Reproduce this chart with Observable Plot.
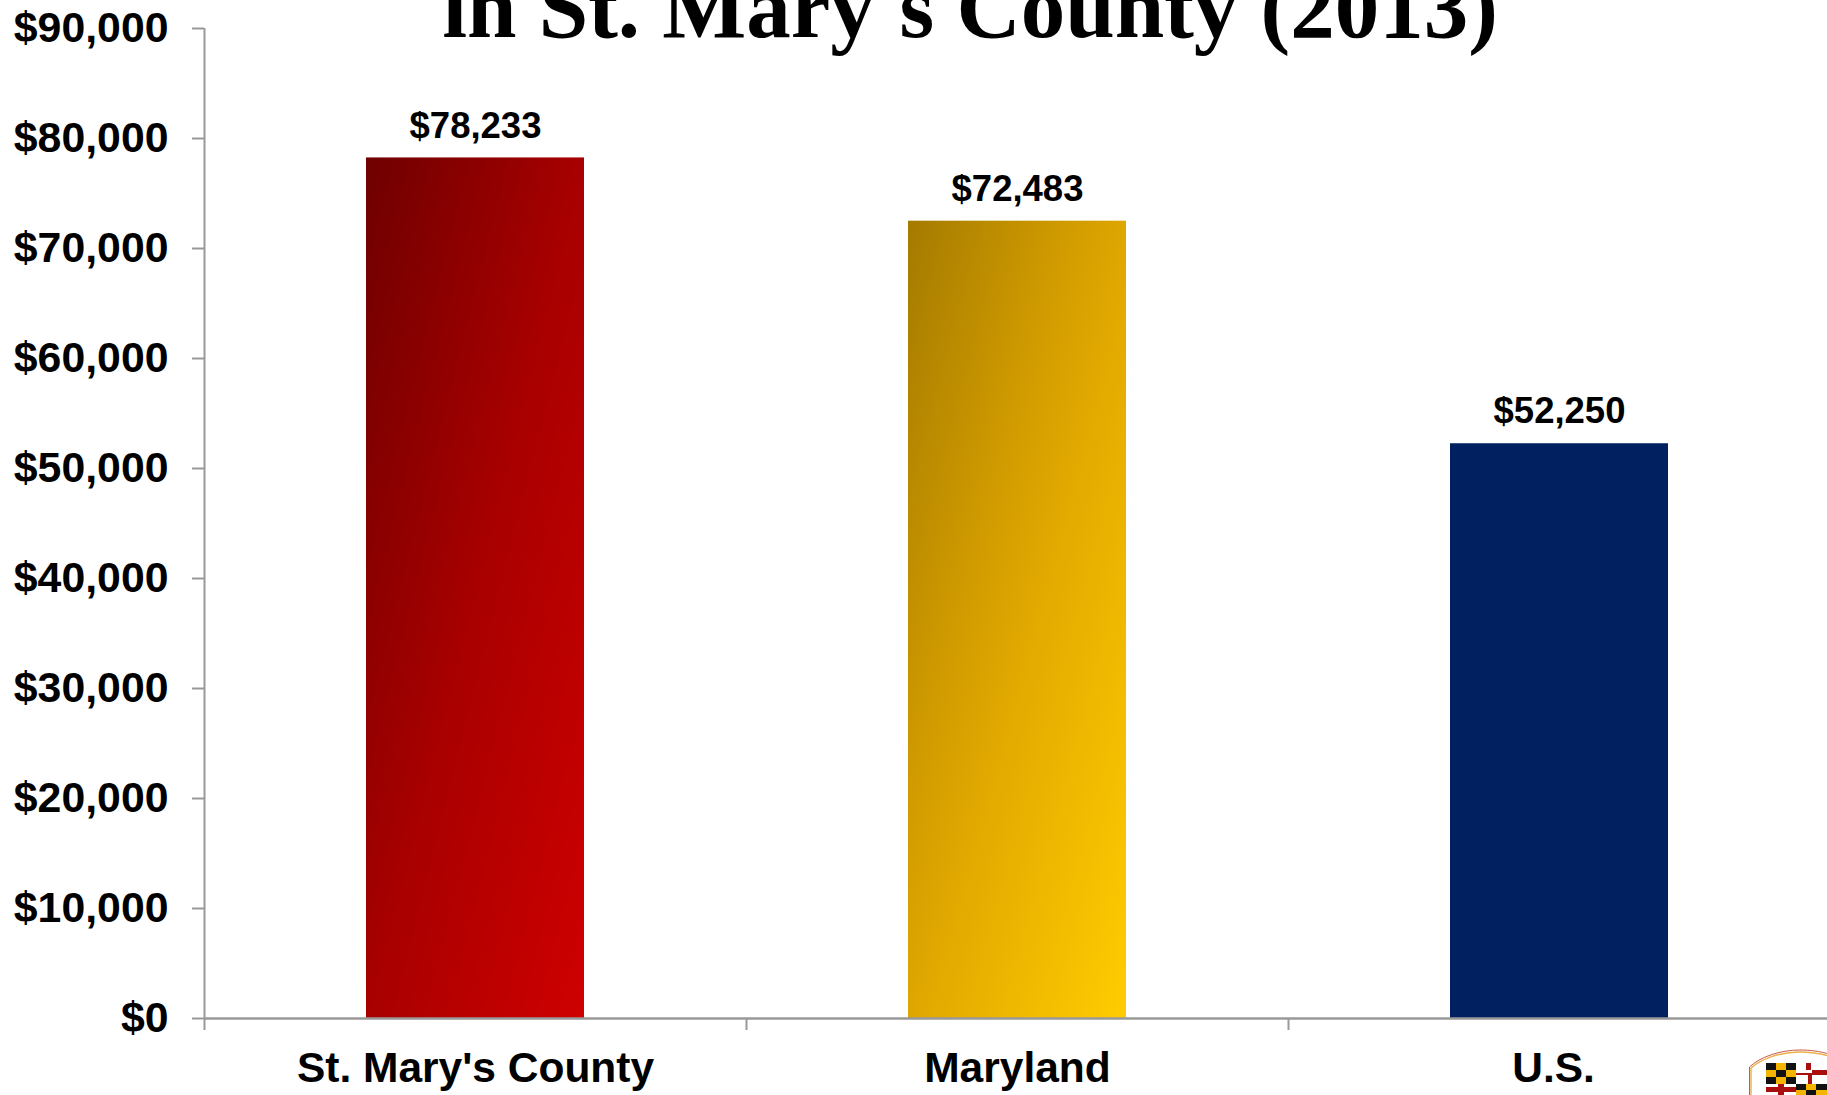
<!DOCTYPE html>
<html><head><meta charset="utf-8">
<script src="https://cdn.jsdelivr.net/npm/d3@7"></script>
<script src="https://cdn.jsdelivr.net/npm/@observablehq/plot@0.6"></script>
<style>
html,body{margin:0;padding:0;background:#fff;overflow:hidden}
#wrap{position:relative;width:1827px;height:1095px;overflow:hidden}
#title{position:absolute;left:0;width:1940px;text-align:center;top:-48px;font:bold 89px/110px "Liberation Serif",serif;color:#000;white-space:nowrap}
#seal{position:absolute;left:1740px;top:1040px}
svg{display:block}
</style></head><body>
<div id="wrap"><div id="chart"></div><div id="title">in St. Mary's County (2013)</div>
<svg id="seal" width="87" height="55" viewBox="0 0 87 55">
  <path d="M9.5 55V27C20 17 40 10 60 10s40 5 60 20" fill="#fff" stroke="#c9584a" stroke-width="1"/>
  <path d="M11 55V28C21 19 40 12 60 12s40 5 60 20" fill="none" stroke="#e8b04a" stroke-width="1.4"/>
  <rect x="26" y="23" width="30" height="21" fill="#f4b400"/>
  <path d="M26 23h10v7H26zM36 30h10v7H36zM46 23h10v7H46zM26 37h10v7H26zM46 37h10v7H46z" fill="#111"/>
  <rect x="56" y="23" width="31" height="21" fill="#fff"/>
  <path d="M56 33h16v-3h-6v-7h5v7h16v5H72v9h-4v-9H56z" fill="#a81010"/>
  <rect x="26" y="44" width="30" height="11" fill="#fff"/>
  <path d="M26 47h30v5H26zM38 44h6v11h-6z" fill="#a81010"/>
  <rect x="56" y="44" width="31" height="11" fill="#f4b400"/>
  <path d="M56 44h10v6H56zM66 50h10v5H66zM76 44h11v6H76z" fill="#111"/>
</svg></div>
<script>
const categories = ["St. Mary's County", "Maryland", "U.S."];
const values = [78233, 72483, 52250];
const valueLabels = ["$78,233", "$72,483", "$52,250"];
const fills = ["url(#gradRed)", "url(#gradGold)", "#002060"];
const yTicks = [0,10000,20000,30000,40000,50000,60000,70000,80000,90000];
const rows = categories.map((c,i)=>({c, v:values[i], t:valueLabels[i]}));
const axisGrey = "#999";
const font = "'Liberation Sans',Arial,sans-serif";

const plot = Plot.plot({
  width:1827, height:1095,
  marginLeft:204, marginRight:0, marginTop:28, marginBottom:77,
  style:{fontFamily:font, background:"#fff", overflow:"hidden"},
  x:{domain:categories, range:[204,1830], padding:0, label:null},
  y:{domain:[0,90000], label:null},
  color:{domain:categories, range:fills},
  marks:[
    Plot.barY(rows,{x:"c", y:"v", fill:"c", insetLeft:162, insetRight:162}),
    Plot.ruleX([0],{x:()=>categories[0], dx:-271, y1:0, y2:90000, stroke:axisGrey, strokeWidth:2}),
    Plot.ruleY([0],{stroke:axisGrey, strokeWidth:2.5, x1:()=>categories[0], x2:()=>categories[2]}),
    Plot.axisY({ticks:yTicks, tickSize:12, tickPadding:24, tickFormat:d3.format("$,"), fontSize:42.8, fontWeight:"bold", stroke:axisGrey, strokeWidth:2, color:"#000", label:null}),
    Plot.axisX({tickSize:12, dx:-271, tickFormat:()=>"", stroke:axisGrey, strokeWidth:2, label:null}),
    Plot.axisX({tickSize:0, tickPadding:33, tickFormat:d=>d==="U.S."?"U.S.\u00a0":d, fontSize:42.5, fontWeight:"bold", color:"#000", label:null, fill:"#000"}),
    Plot.text(rows,{x:"c", y:"v", text:"t", dy:-32, fontSize:36.5, fontWeight:"bold", fill:"#000"})
  ]
});
const ns="http://www.w3.org/2000/svg";
const defs=document.createElementNS(ns,"defs");
defs.innerHTML=`<linearGradient id="gradRed" x1="0" y1="0" x2="1" y2="1"><stop offset="0" stop-color="#6f0000"/><stop offset=".5" stop-color="#a80000"/><stop offset="1" stop-color="#cf0000"/></linearGradient>
<linearGradient id="gradGold" x1="0" y1="0" x2="1" y2="1"><stop offset="0" stop-color="#a47a00"/><stop offset=".35" stop-color="#cf9a00"/><stop offset=".55" stop-color="#e3aa00"/><stop offset="1" stop-color="#ffcc00"/></linearGradient>`;
plot.prepend(defs);
document.getElementById("chart").append(plot);
</script>
</body></html>
